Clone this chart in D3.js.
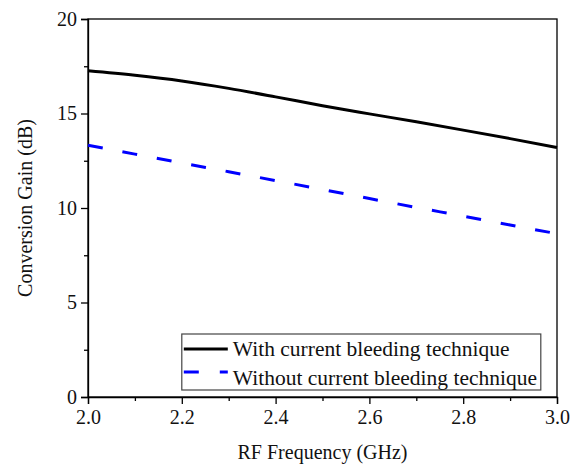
<!DOCTYPE html>
<html>
<head>
<meta charset="utf-8">
<script src="https://cdn.jsdelivr.net/npm/d3@7"></script>
</head>
<body style="margin:0">
<svg id="s" width="580" height="467"></svg>
<script>
// RF frequency sweep (GHz)
const freq = [2.0, 2.1, 2.2, 2.3, 2.4, 2.5, 2.6, 2.7, 2.8, 2.9, 3.0];
// Conversion gain (dB)
const gainWithBleeding = [17.26, 17.02, 16.72, 16.33, 15.88, 15.41, 14.98, 14.56, 14.12, 13.67, 13.2];
const gainWithoutBleeding = [13.32, 12.85, 12.38, 11.92, 11.45, 10.98, 10.5, 10.03, 9.57, 9.1, 8.64];

const xTicks = [2.0, 2.2, 2.4, 2.6, 2.8, 3.0];
const xMinorTicks = [2.1, 2.3, 2.5, 2.7, 2.9];
const yTicks = [0, 5, 10, 15, 20];
const yMinorTicks = [2.5, 7.5, 12.5, 17.5];

const seriesNames = ["With current bleeding technique", "Without current bleeding technique"];

const W = 580, H = 467;
const svg = d3.select("#s").attr("font-family", "Liberation Serif");

const x = d3.scaleLinear().domain([2.0, 3.0]).range([88, 557]);
const y = d3.scaleLinear().domain([0, 20]).range([397, 19]);

// serif label helper
function label(sel, size = 20) {
  return sel.style("font-family", `"Liberation Serif"`).style("font-size", size + "px").attr("fill", "#111");
}

// frame
svg.append("rect")
  .attr("x", x(2.0)).attr("y", y(20))
  .attr("width", x(3.0) - x(2.0)).attr("height", y(0) - y(20))
  .attr("fill", "none").attr("stroke", "#000").attr("stroke-width", 1.3);

// x axis
const gx = svg.append("g").attr("transform", `translate(0,${y(0)})`)
  .call(d3.axisBottom(x).tickValues(xTicks).tickFormat(d3.format(".1f")).tickSize(7).tickPadding(6));
const gx2 = svg.append("g").attr("transform", `translate(0,${y(0)})`)
  .call(d3.axisBottom(x).tickValues(xMinorTicks).tickFormat("").tickSize(4));
gx2.select(".domain").remove();

// y axis
const gy = svg.append("g").attr("transform", `translate(${x(2.0)},0)`)
  .call(d3.axisLeft(y).tickValues(yTicks).tickFormat(d3.format("d")).tickSize(7).tickPadding(4));
const gy2 = svg.append("g").attr("transform", `translate(${x(2.0)},0)`)
  .call(d3.axisLeft(y).tickValues(yMinorTicks).tickFormat("").tickSize(4));
gy2.select(".domain").remove();

[gx, gx2, gy, gy2].forEach(g => g.attr("font-family", "Liberation Serif").attr("font-size", 20));
svg.selectAll(".domain").attr("stroke", "#000").attr("stroke-width", 1.3);
svg.selectAll(".tick line").attr("stroke", "#000").attr("stroke-width", 1.3);
label(svg.selectAll(".tick text"));

// axis titles
label(svg.append("text")
  .attr("x", (x(2.0) + x(3.0)) / 2).attr("y", 459)
  .attr("text-anchor", "middle"))
  .text("RF Frequency (GHz)");
label(svg.append("text")
  .attr("transform", `translate(32,${(y(0) + y(20)) / 2}) rotate(-90)`)
  .attr("text-anchor", "middle"))
  .text("Conversion Gain (dB)");

// curves
const line = d3.line().x(d => x(d[0])).y(d => y(d[1])).curve(d3.curveMonotoneX);
svg.append("path")
  .datum(freq.map((f, i) => [f, gainWithBleeding[i]]))
  .attr("d", line).attr("fill", "none")
  .attr("stroke", "#000").attr("stroke-width", 3);
svg.append("path")
  .datum(freq.map((f, i) => [f, gainWithoutBleeding[i]]))
  .attr("d", line).attr("fill", "none")
  .attr("stroke", "#0000ff").attr("stroke-width", 3)
  .attr("stroke-dasharray", "15,20");

// legend
const lg = svg.append("g");
lg.append("rect")
  .attr("x", x(2.2)).attr("y", 334)
  .attr("width", 359).attr("height", 56)
  .attr("fill", "#fff").attr("stroke", "#444").attr("stroke-width", 1.2);
const legendRows = [
  { color: "#000", dash: null, yy: 349, ty: 356 },
  { color: "#0000ff", dash: "15,21", yy: 372, ty: 385 }
];
legendRows.forEach((it, i) => {
  lg.append("line")
    .attr("x1", x(2.2) + 2).attr("x2", x(2.2) + 46)
    .attr("y1", it.yy).attr("y2", it.yy)
    .attr("stroke", it.color).attr("stroke-width", 3)
    .attr("stroke-dasharray", it.dash);
  label(lg.append("text")
    .attr("x", x(2.2) + 51).attr("y", it.ty), 21.5)
    .text(seriesNames[i]);
});
</script>
</body>
</html>
